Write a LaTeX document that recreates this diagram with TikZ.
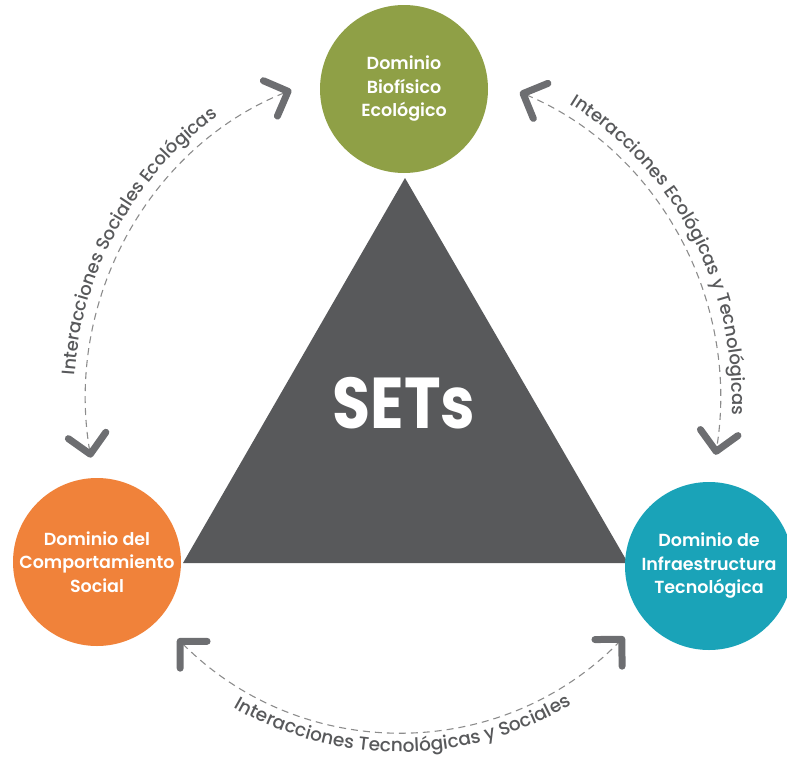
\documentclass[tikz,border=0pt]{standalone}
\usepackage{fontspec}
\setmainfont{Poppins}
\newfontfamily\labelfont{Poppins Medium}
\newfontfamily\domainfont{Poppins SemiBold}
\usepackage{xcolor}
\usetikzlibrary{arrows.meta, decorations.text, calc}

\definecolor{ecogreen}{HTML}{8FA046}
\definecolor{socorange}{HTML}{F0823A}
\definecolor{tecteal}{HTML}{1AA3B8}
\definecolor{setgray}{HTML}{58595B}
\definecolor{chevgray}{HTML}{6D6E71}
\definecolor{dashgray}{HTML}{8C8C8C}

\begin{document}
\begin{tikzpicture}[
  x=1pt, y=1pt,
  every node/.style={font=\fontsize{17}{22}\selectfont},
  dominio/.style={circle, minimum size=168pt, inner sep=0pt, align=center,
                 text=white, font=\fontsize{17.5}{23.5}\selectfont\domainfont},
  chev/.tip={Straight Barb[length=19pt, width=38pt, line width=7pt, round, color=chevgray]},
  interaccion/.style={dashgray, line width=1.1pt, dash pattern=on 7pt off 5pt, {chev}-{chev}},
  arclabel/.style={decorate, decoration={text along path, text align=center,
                   text format delimiters={|}{|}}}
]
\useasboundingbox (0,0) rectangle (787,-761);

%% Triangle
\coordinate (apex)  at (405,-178);
\coordinate (bleft) at (183,-563);
\coordinate (bright) at (628,-563);
\fill[setgray] (apex) -- (bleft) -- (bright) -- cycle;
\node[text=white, font=\fontsize{72}{72}\selectfont\bfseries] (sets) at (404,-403) {\scalebox{0.86}[1]{SETs}};

%% Domains
\node[dominio, fill=ecogreen]  (bio) at (404,-89)  {Dominio\\Biofísico\\Ecológico};
\node[dominio, fill=socorange] (soc) at (97,-562)  {Dominio del\\Comportamiento\\Social};
\node[dominio, fill=tecteal]   (tec) at (709,-566) {Dominio de\\Infraestructura\\Tecnológica};

%% Interactions
\coordinate (O)  at (400,-400);
\coordinate (OL) at (406,-400);
\coordinate (ise) at ($(OL)+(190:320 and 332)$);
\coordinate (iet) at ($(O)+(68:320 and 332)$);
\coordinate (its) at ($(O)+(226:320 and 332)$);

\draw[interaccion] (ise) arc[start angle=190, end angle=111, x radius=320, y radius=332];
\draw[interaccion] (iet) arc[start angle=68, end angle=-9.5, x radius=320, y radius=332];
\draw[interaccion] (its) arc[start angle=226, end angle=314.5, x radius=320, y radius=332];

%% Labels
\path[arclabel, decoration={text={|\fontsize{18}{18}\selectfont\labelfont\color{setgray}|Interacciones Sociales Ecológicas}}]
  ($(OL)+(190:332 and 344)$) arc[start angle=190, end angle=110, x radius=332, y radius=344];
\path[arclabel, decoration={text={|\fontsize{18}{18}\selectfont\labelfont\color{setgray}|Interacciones Ecológicas y Tecnológicas}}]
  ($(O)+(68:332 and 344)$) arc[start angle=68, end angle=-11, x radius=332, y radius=344];
\path[arclabel, decoration={text={|\fontsize{18.5}{18.5}\selectfont\labelfont\color{setgray}|Interacciones Tecnológicas y Sociales}}]
  ($(O)+(226:342 and 352)$) arc[start angle=226, end angle=315, x radius=342, y radius=352];

\end{tikzpicture}
\end{document}
